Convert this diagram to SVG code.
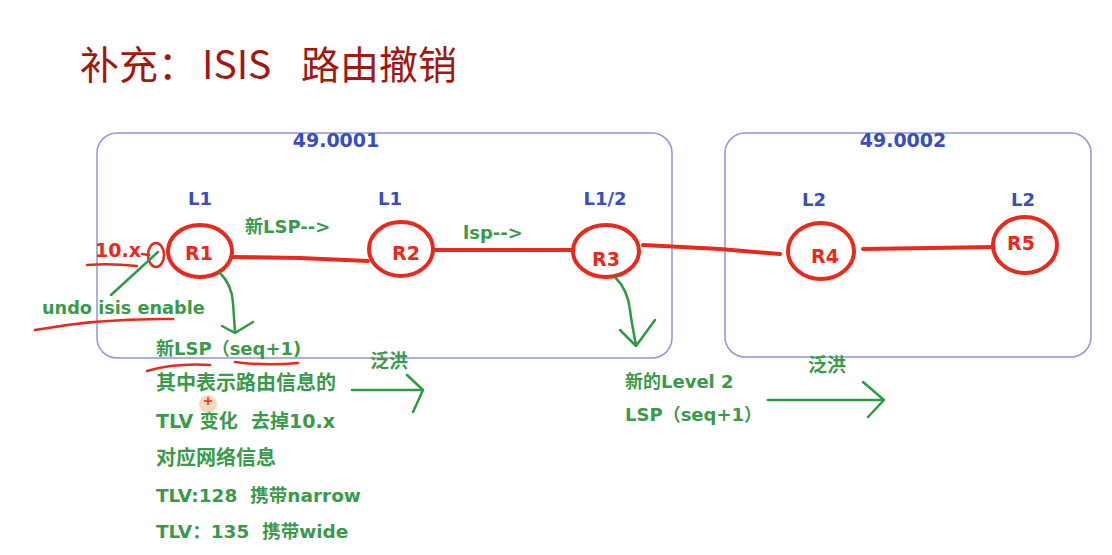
<svg xmlns="http://www.w3.org/2000/svg" width="1112" height="555" viewBox="0 0 1112 555">
<style>
.t{font-family:"DejaVu Sans","Noto Sans CJK SC",sans-serif;font-weight:bold;white-space:pre}
.ttl{font-family:"Noto Sans CJK SC",sans-serif;font-size:39px;fill:#a01810;white-space:pre}
.blue{fill:#3a4dbf;font-size:18px}
.red{fill:#e8291c;font-size:19px}
.green{fill:#3a9a4c;font-size:18px}
.area{fill:none;stroke:#8e98d6;stroke-width:1.5}
.node{fill:#fff;stroke:#e8291c;stroke-width:4}
.link{fill:none;stroke:#e8291c;stroke-width:4;stroke-linecap:round}
.rmark{fill:none;stroke:#e8291c;stroke-width:2.5;stroke-linecap:round}
.gmark{fill:none;stroke:#2d9a45;stroke-width:2.5;stroke-linecap:round;stroke-linejoin:round}
</style>
<rect width="1112" height="555" fill="#fff"/>
<g id="title">
<text class="ttl" x="80" y="79">补充：</text>
<text class="ttl" x="202" y="79">ISIS</text>
<text class="ttl" x="301" y="79">路由撤销</text>
</g>
<g id="area1">
<rect class="area" x="97" y="133" width="575" height="225" rx="20"/>
<text class="t blue" x="336" y="147" text-anchor="middle" style="font-size:19px">49.0001</text>
</g>
<g id="area2">
<rect class="area" x="725" y="133" width="366" height="224" rx="20"/>
<text class="t blue" x="903" y="147" text-anchor="middle" style="font-size:19px">49.0002</text>
</g>
<g id="connectors">
<path class="link" d="M232 257 L300 258 L368 261"/>
<path class="link" d="M433 250 L500 250 L573 250"/>
<path class="link" d="M643 245 L720 249 L780 254"/>
<path class="link" d="M863 249 L930 248 L993 247"/>
</g>
<g id="R1">
<text class="t blue" x="200" y="205" text-anchor="middle">L1</text>
<ellipse class="node" cx="200" cy="251" rx="32" ry="26"/>
<text class="t red" x="199" y="260" text-anchor="middle">R1</text>
</g>
<g id="R2">
<text class="t blue" x="390" y="205" text-anchor="middle">L1</text>
<ellipse class="node" cx="401" cy="249" rx="32" ry="27"/>
<text class="t red" x="406" y="260" text-anchor="middle">R2</text>
</g>
<g id="R3">
<text class="t blue" x="605" y="205" text-anchor="middle">L1/2</text>
<ellipse class="node" cx="606" cy="251" rx="33" ry="26"/>
<text class="t red" x="606" y="266" text-anchor="middle">R3</text>
</g>
<g id="R4">
<text class="t blue" x="814" y="206" text-anchor="middle">L2</text>
<ellipse class="node" cx="821" cy="251" rx="33" ry="28"/>
<text class="t red" x="825" y="263" text-anchor="middle">R4</text>
</g>
<g id="R5">
<text class="t blue" x="1023" y="206" text-anchor="middle">L2</text>
<ellipse class="node" cx="1025" cy="245" rx="32" ry="28"/>
<text class="t red" x="1021" y="250" text-anchor="middle">R5</text>
</g>
<g id="interface">
<text class="t red" x="95" y="257">10.x</text>
<path class="rmark" d="M142 254 L149 255"/>
<ellipse cx="156" cy="255" rx="8" ry="12" fill="none" stroke="#e8291c" stroke-width="2.5"/>
<path class="rmark" d="M87 265 Q110 263 137 266"/>
</g>
<g id="undo">
<path class="gmark" d="M158 252 L111 295"/>
<text class="t green" x="42" y="314" style="font-size:17.7px">undo isis enable</text>
<path class="rmark" d="M35 330 Q100 318 173 319"/>
</g>
<g id="labels">
<text class="t green" x="245" y="233">新LSP--&gt;</text>
<text class="t green" x="463" y="239">lsp--&gt;</text>
</g>
<g id="flood-arrows">
<path class="gmark" d="M220 273 Q232 285 233 303 Q234 318 235 332"/>
<path class="gmark" d="M222 326 L235 333 L253 322"/>
<path class="gmark" d="M615 277 Q628 290 630 310 Q632 325 636 345"/>
<path class="gmark" d="M620 330 L636 346 L655 320"/>
</g>
<g id="lsp-info">
<text class="t green" x="156" y="355">新LSP（seq+1)</text>
<path class="rmark" d="M147 371 Q175 363 210 365"/>
<path class="rmark" d="M235 362 Q265 366 298 363"/>
<text class="t green" x="156" y="390" style="font-size:20px">其中表示路由信息的</text>
<text class="t green" x="156" y="428" style="font-size:19px">TLV 变化  去掉10.x</text>
<text class="t green" x="156" y="465" style="font-size:20px">对应网络信息</text>
<text class="t green" x="156" y="502" style="font-size:18.5px">TLV:128  携带narrow</text>
<text class="t green" x="156" y="538" style="font-size:18.5px">TLV：135  携带wide</text>
<circle cx="208" cy="404" r="9" fill="#f3c9a0" opacity="0.7"/>
<path d="M204 401 L212 401 M208 397 L208 405" stroke="#e8291c" stroke-width="1.5"/>
</g>
<g id="flood1">
<text class="t green" x="370" y="368" style="font-size:19px">泛洪</text>
<path class="gmark" d="M352 390 L422 390"/>
<path class="gmark" d="M407 375 L423 390 L413 412"/>
</g>
<g id="level2-info">
<text class="t green" x="625" y="388">新的Level 2</text>
<text class="t green" x="625" y="421">LSP（seq+1）</text>
</g>
<g id="flood2">
<text class="t green" x="808" y="372" style="font-size:19px">泛洪</text>
<path class="gmark" d="M768 400 L883 400"/>
<path class="gmark" d="M863 382 L884 400 L868 417"/>
</g>
</svg>
